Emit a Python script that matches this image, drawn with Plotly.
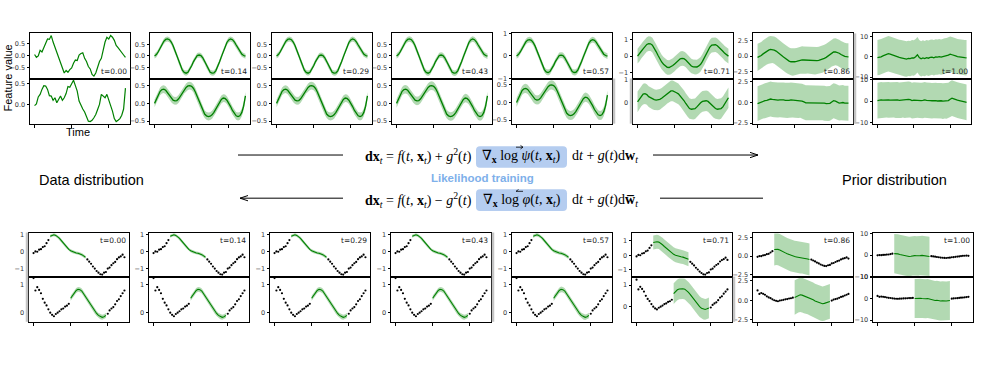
import plotly.graph_objects as go

W, H = 982, 365
N = 50
IDX = list(range(N))
XRANGE = [-2.45, 51.45]
XTICKS = [0, 20, 40]

# ---------------- data: forward process (top section) ----------------
time_labels = ["t=0.00", "t=0.14", "t=0.29", "t=0.43", "t=0.57", "t=0.71", "t=0.86", "t=1.00"]

raw_feat_a = [0.05, -0.07, -0.01, 0.23, 0.16, 0.36, 0.57, 0.70, 0.68, 0.84,
              0.57, 0.36, 0.16, -0.11, -0.34, -0.55, -0.72, -0.61, -0.69, -0.58,
              -0.51, -0.31, -0.18, -0.20, 0.03, 0.09, 0.12, -0.11, -0.24, -0.45,
              -0.55, -0.78, -0.85, -0.72, -0.45, -0.24, -0.11, 0.23, 0.57, 0.77,
              0.70, 0.84, 0.77, 0.64, 0.43, 0.34, 0.23, 0.09, 0.03, -0.07]
raw_feat_b = [-0.02, 0.02, 0.19, 0.25, 0.37, 0.46, 0.45, 0.37, 0.22, 0.21,
              0.11, 0.17, 0.05, 0.13, 0.21, 0.11, 0.17, 0.27, 0.44, 0.42,
              0.52, 0.59, 0.46, 0.33, 0.09, -0.02, -0.10, -0.17, -0.29, -0.39,
              -0.40, -0.37, -0.31, -0.23, -0.11, 0.01, 0.25, 0.21, 0.17, 0.25,
              0.11, 0.01, -0.15, -0.33, -0.40, -0.37, -0.33, -0.25, -0.10, 0.40]

smooth_a = [0.00, 0.06, 0.18, 0.33, 0.50, 0.63, 0.71, 0.73, 0.70, 0.60,
            0.44, 0.24, 0.02, -0.22, -0.44, -0.61, -0.71, -0.74, -0.70, -0.58,
            -0.42, -0.24, -0.08, 0.02, 0.04, 0.02, -0.08, -0.24, -0.42, -0.58,
            -0.70, -0.74, -0.73, -0.64, -0.47, -0.26, -0.04, 0.19, 0.40, 0.58,
            0.69, 0.73, 0.70, 0.61, 0.47, 0.33, 0.19, 0.08, 0.02, -0.01]
smooth_b = [0.00, 0.12, 0.25, 0.34, 0.39, 0.40, 0.37, 0.30, 0.22, 0.14,
            0.09, 0.07, 0.08, 0.13, 0.21, 0.30, 0.39, 0.45, 0.49, 0.50,
            0.48, 0.42, 0.32, 0.19, 0.05, -0.09, -0.21, -0.30, -0.35, -0.37,
            -0.36, -0.32, -0.25, -0.16, -0.06, 0.04, 0.11, 0.15, 0.14, 0.09,
            0.01, -0.09, -0.20, -0.29, -0.35, -0.37, -0.35, -0.26, -0.08, 0.21]

t071_a = [0.00, 0.12, 0.30, 0.45, 0.60, 0.72, 0.77, 0.76, 0.68, 0.50,
          0.28, 0.05, -0.18, -0.36, -0.50, -0.62, -0.69, -0.70, -0.66, -0.58,
          -0.48, -0.36, -0.25, -0.17, -0.14, -0.16, -0.24, -0.36, -0.50, -0.61,
          -0.66, -0.68, -0.67, -0.60, -0.50, -0.32, -0.10, 0.15, 0.38, 0.56,
          0.68, 0.71, 0.70, 0.64, 0.54, 0.42, 0.30, 0.17, 0.06, 0.00]
t071_b = [0.02, 0.15, 0.28, 0.36, 0.38, 0.34, 0.25, 0.20, 0.15, 0.12,
          0.10, 0.10, 0.13, 0.18, 0.25, 0.32, 0.40, 0.46, 0.50, 0.50,
          0.47, 0.42, 0.37, 0.28, 0.18, 0.08, -0.05, -0.18, -0.27, -0.30,
          -0.30, -0.28, -0.20, -0.10, -0.02, 0.04, 0.07, 0.07, 0.04, -0.04,
          -0.14, -0.22, -0.27, -0.30, -0.30, -0.27, -0.20, -0.08, 0.08, 0.20]
t086_a = [-0.20, -0.10, 0.10, 0.35, 0.60, 0.80, 0.95, 1.05, 1.05, 0.95,
          0.80, 0.60, 0.35, 0.10, -0.15, -0.40, -0.60, -0.80, -0.90, -0.95,
          -0.90, -0.85, -0.75, -0.65, -0.60, -0.62, -0.65, -0.60, -0.62, -0.70,
          -0.75, -0.78, -0.72, -0.68, -0.60, -0.50, -0.35, -0.20, 0.00, 0.25,
          0.50, 0.65, 0.68, 0.60, 0.45, 0.25, 0.05, -0.05, -0.10, -0.12]
t086_b = [-0.15, -0.05, 0.05, 0.15, 0.20, 0.25, 0.35, 0.40, 0.35, 0.30,
          0.25, 0.28, 0.30, 0.32, 0.30, 0.25, 0.22, 0.25, 0.30, 0.28,
          0.25, 0.20, 0.22, 0.25, 0.15, 0.05, -0.05, -0.05, -0.05, -0.08,
          -0.05, -0.05, -0.08, -0.10, -0.05, -0.05, -0.10, -0.15, -0.15, -0.12,
          0.05, 0.20, 0.15, 0.00, -0.08, -0.05, -0.02, -0.10, -0.08, -0.10]
t100_a = [-0.4, -0.3, 0.0, 0.4, 0.8, 1.2, 1.5, 1.3, 0.9, 0.6,
          0.4, 0.1, -0.3, -0.5, -0.8, -1.0, -1.1, -0.8, -0.9, -0.5,
          -0.6, 0.0, 1.0, -0.4, -1.0, -0.6, -0.9, -0.4, -0.7, -0.3,
          -0.2, -0.5, -0.1, -0.2, 0.1, -0.2, 0.2, 0.4, 0.6, 0.8,
          1.3, 1.0, 0.5, 0.4, 0.1, -0.1, -0.2, -0.3, -0.4, -0.5]
t100_b = [0.3, 0.5, 0.6, 0.5, 0.6, 0.7, 0.6, 0.5, 0.6, 0.7,
          0.5, 0.6, 0.4, 0.5, 0.7, 0.5, 0.6, 0.8, 0.7, 0.3,
          0.5, 0.4, 0.6, 0.5, 0.3, 0.4, 0.6, 0.4, 0.5, 0.3,
          0.2, 0.4, 0.3, 0.1, 0.3, 0.2, 0.0, 0.2, 0.1, 0.3,
          0.9, 1.4, 1.1, 0.7, 0.5, 0.3, 0.0, -0.2, -0.3, -0.5]

fwd_mean_a = [raw_feat_a, smooth_a, smooth_a, smooth_a, smooth_a, t071_a, t086_a, t100_a]
fwd_mean_b = [raw_feat_b, smooth_b, smooth_b, smooth_b, smooth_b, t071_b, t086_b, t100_b]
fwd_std_a = [0.0, 0.11, 0.11, 0.12, 0.13, 0.45, 2.15, 8.7]
fwd_std_b = [0.0, 0.11, 0.11, 0.12, 0.13, 0.45, 2.10, 8.2]

fwd_range_a = [[-0.95, 0.93], [-0.97, 0.97], [-0.97, 0.97], [-0.97, 0.97],
               [-1.01, 1.01], [-1.38, 1.40], [-3.56, 3.60], [-10.7, 11.5]]
fwd_range_b = [[-0.45, 0.63], [-0.57, 0.70], [-0.57, 0.70], [-0.57, 0.70],
               [-0.60, 0.68], [-0.93, 1.04], [-2.56, 2.87], [-10.3, 10.4]]
fwd_ticks_a = [[-0.5, 0, 0.5]] * 4 + [[-1, 0, 1], [-1, 0, 1], [-2.5, 0, 2.5], [-10, 0, 10]]
fwd_ticktext_a = [["−0.5", "0.0", "0.5"]] * 4 + [["−1", "0", "1"], ["−1", "0", "1"],
                                                 ["−2.5", "0.0", "2.5"], ["−10", "0", "10"]]
fwd_ticks_b = [[0, 0.5]] + [[-0.5, 0, 0.5]] * 4 + [[0, 1], [-2.5, 0, 2.5], [-10, 0, 10]]
fwd_ticktext_b = [["0.0", "0.5"]] + [["−0.5", "0.0", "0.5"]] * 4 + [["0", "1"], ["−2.5", "0.0", "2.5"],
                                                                   ["−10", "0", "10"]]

# ---------------- data: conditional generation (bottom section) ----------------
obs_a = [-0.08, 0.02, 0.00, 0.12, 0.15, 0.27, 0.32, 0.50, 0.68,
         None, None, None, None, None, None, None, None, None, None,
         None, None, None, None, None, None, None, None, None, None,
         -0.45, -0.58, -0.70, -0.86, -0.98, -1.12, -1.22, -1.31, -1.33, -1.22,
         -1.18, -0.98, -0.92, -0.78, -0.67, -0.59, -0.43, -0.33, -0.27, -0.17, -0.32]
obs_b = [1.25, 0.80, 0.92, 0.82, 0.70, 0.50, 0.36, 0.26, 0.12, 0.00,
         -0.08, -0.13, -0.05, 0.00, 0.05, 0.12, 0.15, 0.22, 0.25, 0.32,
         None, None, None, None, None, None, None, None, None, None,
         None, None, None, None, None, None, None, None, None, None,
         -0.04, 0.08, 0.15, 0.20, 0.30, 0.42, 0.48, 0.60, 0.70, 0.80]

win_a = list(range(9, 29))
win_b = list(range(20, 40))
cond_a = [0.90, 0.97, 0.99, 0.95, 0.88, 0.78, 0.65, 0.51, 0.37, 0.25,
          0.14, 0.06, 0.00, -0.04, -0.07, -0.09, -0.12, -0.17, -0.24, -0.32]
cond_b = [0.52, 0.62, 0.72, 0.80, 0.84, 0.83, 0.78, 0.68, 0.58, 0.46,
          0.35, 0.25, 0.15, 0.05, -0.03, -0.10, -0.15, -0.17, -0.15, -0.10]
cond071_a = [0.88, 0.92, 0.93, 0.90, 0.83, 0.72, 0.60, 0.48, 0.36, 0.24,
             0.14, 0.06, 0.00, -0.05, -0.08, -0.10, -0.13, -0.17, -0.22, -0.28]
cond071_b = [0.60, 0.70, 0.78, 0.82, 0.84, 0.83, 0.81, 0.75, 0.66, 0.56,
             0.44, 0.32, 0.20, 0.10, 0.00, -0.07, -0.12, -0.13, -0.10, -0.06]
cond086_a = [0.90, 0.95, 0.92, 0.85, 0.75, 0.60, 0.45, 0.32, 0.20, 0.10,
             0.02, -0.05, -0.10, -0.13, -0.17, -0.20, -0.25, -0.30, -0.38, -0.45]
cond086_b = [0.35, 0.50, 0.65, 0.70, 0.65, 0.55, 0.45, 0.42, 0.30, 0.20,
             0.05, -0.10, -0.20, -0.30, -0.40, -0.45, -0.40, -0.30, -0.20, -0.15]
cond100_a = [0.7, 0.8, 0.6, 0.3, 0.1, -0.2, -0.4, -0.5, -0.6, -0.5,
             -0.3, -0.2, -0.3, -0.4, -0.2, -0.1, -0.3, -0.4, -0.5, -0.6]
cond100_b = [0.0, 0.1, 0.2, 0.1, 0.0, -0.2, -0.1, 0.0, -0.3, -0.5,
             -0.7, -0.9, -0.8, -1.0, -1.1, -1.0, -1.2, -1.1, -1.0, -0.9]

gen_mean_a = [cond_a] * 5 + [cond071_a, cond086_a, cond100_a]
gen_mean_b = [cond_b] * 5 + [cond071_b, cond086_b, cond100_b]
gen_std_a = [0.09, 0.09, 0.09, 0.09, 0.10, 0.48, 2.15, 9.2]
gen_std_b = [0.09, 0.09, 0.09, 0.09, 0.10, 0.48, 2.20, 9.1]

gen_range_a = [[-1.45, 1.12]] * 5 + [[-1.47, 1.56], [-2.76, 3.2], [-10.05, 10.6]]
gen_range_b = [[-0.33, 1.30]] * 5 + [[-0.70, 1.39], [-2.74, 3.0], [-10.8, 10.2]]
gen_ticks_a = [[-1, 0, 1]] * 6 + [[-2.5, 0, 2.5], [-10, 0, 10]]
gen_ticktext_a = [["−1", "0", "1"]] * 6 + [["−2.5", "0.0", "2.5"], ["−10", "0", "10"]]
gen_ticks_b = [[0, 1]] * 6 + [[-2.5, 0, 2.5], [-10, 0, 10]]
gen_ticktext_b = [["0", "1"]] * 6 + [["−2.5", "0.0", "2.5"], ["−10", "0", "10"]]

# ---------------- geometry (pixels) ----------------
FWD_LEFT = [30, 150, 272, 392, 512, 633, 753, 873]
GEN_LEFT = [29, 149, 270, 391, 512, 632, 753, 873]
PANEL_W = 100
FWD_Y = (31, 77, 123)
GEN_Y = (234, 279, 325)

GREEN = "#008000"
BAND = "rgba(0,128,0,0.3)"
TICKFONT = dict(family="DejaVu Sans", size=6.5, color="#333333")

fig = go.Figure()
layout_axes = {}
annotations = []
counter = [0]


def add_axes(x0, x1, y0, y1, yrange, yt, ytt, xticks):
    counter[0] += 1
    k = counter[0]
    sfx = "" if k == 1 else str(k)
    layout_axes["xaxis" + sfx] = dict(
        domain=[x0 / W, x1 / W], anchor="y" + sfx, range=XRANGE,
        showgrid=False, zeroline=False, showline=True, mirror=True,
        linecolor="black", linewidth=1,
        ticks="outside" if xticks else "", tickvals=XTICKS, ticklen=3,
        tickcolor="black", tickwidth=1, showticklabels=False, fixedrange=True)
    layout_axes["yaxis" + sfx] = dict(
        domain=[1 - y1 / H, 1 - y0 / H], anchor="x" + sfx, range=yrange,
        tickvals=yt, ticktext=ytt, ticks="outside", ticklen=2.5, tickwidth=0.8,
        tickcolor="black", tickfont=TICKFONT, showgrid=False, zeroline=False,
        showline=True, mirror=True, linecolor="black", linewidth=1, fixedrange=True)
    return "x" + sfx, "y" + sfx


def add_band(xa, ya, xs, mean, std):
    up = [m + std for m in mean]
    lo = [m - std for m in mean]
    fig.add_trace(go.Scatter(x=xs + xs[::-1], y=up + lo[::-1], fill="toself",
                             fillcolor=BAND, line=dict(width=0), mode="lines",
                             hoverinfo="skip", xaxis=xa, yaxis=ya))


def add_line(xa, ya, xs, ys, width=1.3):
    fig.add_trace(go.Scatter(x=xs, y=ys, mode="lines", line=dict(color=GREEN, width=width),
                             xaxis=xa, yaxis=ya))


def add_dots(xa, ya, ys):
    fig.add_trace(go.Scatter(x=IDX, y=ys, mode="markers",
                             marker=dict(color="black", size=2.2),
                             xaxis=xa, yaxis=ya))


# forward process panels
for c in range(8):
    x0 = FWD_LEFT[c]
    x1 = x0 + (PANEL_W if c < 7 else 98)
    xa, ya = add_axes(x0, x1, FWD_Y[0], FWD_Y[1], fwd_range_a[c], fwd_ticks_a[c], fwd_ticktext_a[c], False)
    if fwd_std_a[c] > 0:
        add_band(xa, ya, IDX, fwd_mean_a[c], fwd_std_a[c])
    add_line(xa, ya, IDX, fwd_mean_a[c], 1.2 if c == 0 else 1.3)
    annotations.append(dict(text=time_labels[c], xref=xa + " domain", yref=ya + " domain",
                            x=0.985, y=0.02, xanchor="right", yanchor="bottom", showarrow=False,
                            font=dict(family="DejaVu Sans", size=7.5, color="#222222")))
    xb, yb = add_axes(x0, x1, FWD_Y[1], FWD_Y[2], fwd_range_b[c], fwd_ticks_b[c], fwd_ticktext_b[c], True)
    if fwd_std_b[c] > 0:
        add_band(xb, yb, IDX, fwd_mean_b[c], fwd_std_b[c])
    add_line(xb, yb, IDX, fwd_mean_b[c], 1.2 if c == 0 else 1.3)

# conditional generation panels
for c in range(8):
    x0 = GEN_LEFT[c]
    x1 = x0 + PANEL_W
    xa, ya = add_axes(x0, x1, GEN_Y[0], GEN_Y[1], gen_range_a[c], gen_ticks_a[c], gen_ticktext_a[c], False)
    add_dots(xa, ya, obs_a)
    add_band(xa, ya, win_a, gen_mean_a[c], gen_std_a[c])
    add_line(xa, ya, win_a, gen_mean_a[c], 1.1)
    annotations.append(dict(text=time_labels[c], xref=xa + " domain", yref=ya + " domain",
                            x=0.985, y=0.97, xanchor="right", yanchor="top", showarrow=False,
                            font=dict(family="DejaVu Sans", size=7.5, color="#222222")))
    xb, yb = add_axes(x0, x1, GEN_Y[1], GEN_Y[2], gen_range_b[c], gen_ticks_b[c], gen_ticktext_b[c], True)
    add_dots(xb, yb, obs_b)
    add_band(xb, yb, win_b, gen_mean_b[c], gen_std_b[c])
    add_line(xb, yb, win_b, gen_mean_b[c], 1.1)


def paper(px, py):
    return px / W, 1 - py / H


def text_ann(txt, px, py, size, family, color="black", xanchor="center", angle=0):
    x, y = paper(px, py)
    annotations.append(dict(text=txt, x=x, y=y, xref="paper", yref="paper", xanchor=xanchor,
                            yanchor="middle", showarrow=False, textangle=angle,
                            font=dict(family=family, size=size, color=color)))


SANS = "Liberation Sans, Arial, sans-serif"
SERIF = "Liberation Serif, DejaVu Serif, serif"

text_ann("Feature value", 8, 77, 11, SANS, angle=-90)
text_ann("Time", 78, 132, 11, SANS)
text_ann("Data distribution", 91, 180, 14.5, SANS)
text_ann("Prior distribution", 894, 180, 14.5, SANS)
text_ann("<b>Likelihood training</b>", 482, 178, 11.5, SANS, color="#7eb0ea")

BOX_L, BOX_R = 476, 567
EQ1_Y, EQ2_Y = 156, 201
PSI_X = 519

eq1_left = "<b>dx</b><sub><i>t</i></sub> = <i>f</i>(<i>t</i>, <b>x</b><sub><i>t</i></sub>) + <i>g</i><sup>2</sup>(<i>t</i>)"
eq1_mid = "∇<sub><b>x</b></sub> log <i>ψ</i>(<i>t</i>, <b>x</b><sub><i>t</i></sub>)"
eq1_right = "d<i>t</i> + <i>g</i>(<i>t</i>)d<b>w</b><sub><i>t</i></sub>"
eq2_left = "<b>dx</b><sub><i>t</i></sub> = <i>f</i>(<i>t</i>, <b>x</b><sub><i>t</i></sub>) − <i>g</i><sup>2</sup>(<i>t</i>)"
eq2_mid = "∇<sub><b>x</b></sub> log <i>φ</i>(<i>t</i>, <b>x</b><sub><i>t</i></sub>)"
eq2_right = "d<i>t</i> + <i>g</i>(<i>t</i>)d<b>w\u0305</b><sub><i>t</i></sub>"

for left, mid, right, yy in [(eq1_left, eq1_mid, eq1_right, EQ1_Y), (eq2_left, eq2_mid, eq2_right, EQ2_Y)]:
    text_ann(left, BOX_L - 2, yy, 14, SERIF, xanchor="right")
    text_ann(mid, (BOX_L + BOX_R) / 2, yy, 14, SERIF)
    text_ann(right, BOX_R + 3, yy, 14, SERIF, xanchor="left")

shapes = []


def pline(xa, ya, xb, yb, width=1.0, color="black"):
    x0, y0 = paper(xa, ya)
    x1, y1 = paper(xb, yb)
    shapes.append(dict(type="line", xref="paper", yref="paper", x0=x0, y0=y0, x1=x1, y1=y1,
                       line=dict(color=color, width=width)))


def rounded_box(xl, yt, xr, yb, r):
    rx, ry = r / W, r / H
    x0, y1 = paper(xl, yt)
    x1, y0 = paper(xr, yb)
    path = (f"M {x0 + rx},{y0} L {x1 - rx},{y0} Q {x1},{y0} {x1},{y0 + ry} "
            f"L {x1},{y1 - ry} Q {x1},{y1} {x1 - rx},{y1} L {x0 + rx},{y1} "
            f"Q {x0},{y1} {x0},{y1 - ry} L {x0},{y0 + ry} Q {x0},{y0} {x0 + rx},{y0} Z")
    shapes.append(dict(type="path", xref="paper", yref="paper", path=path,
                       fillcolor="#b5cdf0", line=dict(width=0), layer="below"))


rounded_box(BOX_L, EQ1_Y - 10, BOX_R, EQ1_Y + 12, 4)
rounded_box(BOX_L, EQ2_Y - 11, BOX_R, EQ2_Y + 11, 4)

# small arrows over psi (right) and phi (left)
pline(PSI_X - 3, EQ1_Y - 9, PSI_X + 4, EQ1_Y - 9, 0.8)
pline(PSI_X + 4, EQ1_Y - 9, PSI_X + 1.5, EQ1_Y - 10.8, 0.8)
pline(PSI_X + 4, EQ1_Y - 9, PSI_X + 1.5, EQ1_Y - 7.2, 0.8)
pline(PSI_X - 3, EQ2_Y - 9, PSI_X + 4, EQ2_Y - 9, 0.8)
pline(PSI_X - 3, EQ2_Y - 9, PSI_X - 0.5, EQ2_Y - 10.8, 0.8)

# forward arrows
pline(238, 155, 343, 155)
pline(653, 155, 758, 155)
pline(758, 155, 750, 152.3)
pline(758, 155, 750, 157.7)
# reverse arrows
pline(240, 199, 343, 199)
pline(240, 199, 248, 196.3)
pline(240, 199, 248, 201.7)
pline(660, 199, 763, 199)

# faint grey edge strips visible next to some panels
GREY = "#c4c4c4"
pline(614, 77, 614, 123, 2.5, GREY)
pline(631, 77, 631, 123, 2.5, GREY)
pline(855, 31, 855, 123, 2.5, GREY)
pline(27, 234, 27, 325, 2.5, GREY)
pline(493, 234, 493, 325, 2.5, GREY)
pline(734, 279, 734, 325, 2.5, GREY)

fig.update_layout(width=W, height=H, margin=dict(l=0, r=0, t=0, b=0),
                  paper_bgcolor="white", plot_bgcolor="white", showlegend=False,
                  annotations=annotations, shapes=shapes, **layout_axes)
fig.write_html("out.html", config={"displayModeBar": False},
               post_script="document.body.style.margin='0px';")
